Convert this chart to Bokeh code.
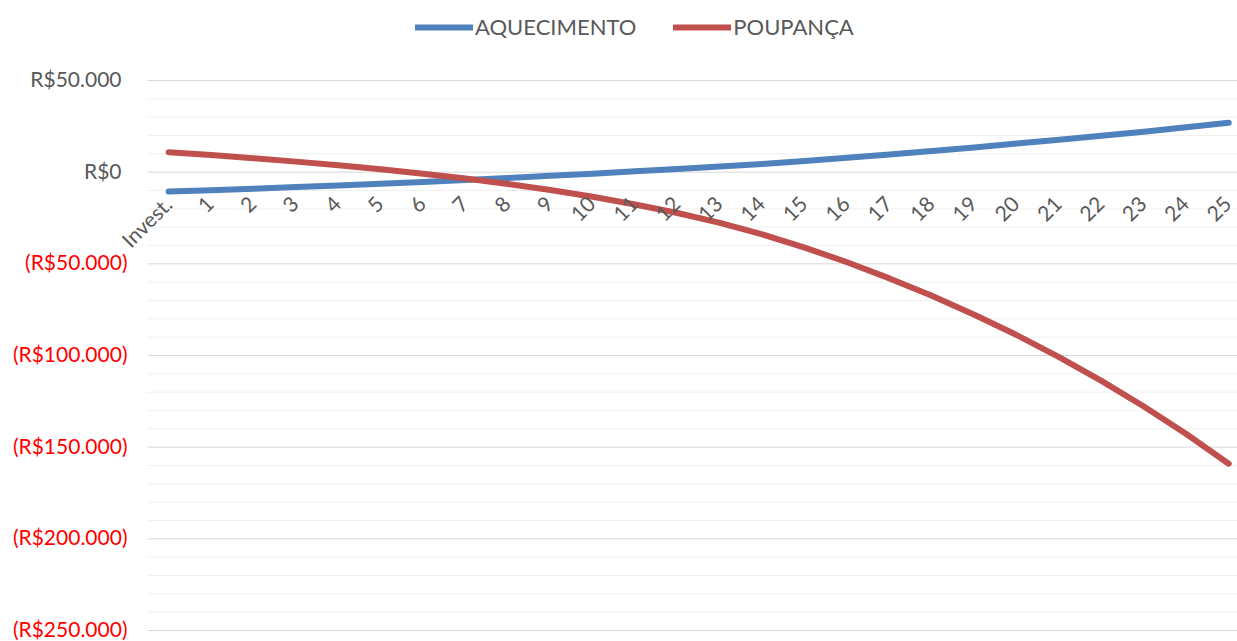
import math

from bokeh.core.properties import value
from bokeh.embed import file_html
from bokeh.models import ColumnDataSource, LabelSet, Legend, LegendItem, Range1d
from bokeh.plotting import figure
from bokeh.resources import INLINE

# Period labels on the category axis
periods = ["Invest.", "1", "2", "3", "4", "5", "6", "7", "8", "9", "10", "11", "12",
           "13", "14", "15", "16", "17", "18", "19", "20", "21", "22", "23", "24", "25"]

# Accumulated balance per period (R$)
aquecimento = [-10600, -9800, -9000, -8150, -7250, -6300, -5300, -4250, -3150, -2000,
               -800, 450, 1700, 3050, 4500, 6100, 7800, 9600, 11500, 13500,
               15600, 17700, 19850, 22100, 24450, 26900]
poupanca = [10900, 9300, 7600, 5750, 3750, 1550, -850, -3500, -6450, -9750,
            -13450, -17600, -22250, -27650, -33950, -41150, -49150, -57950, -67450, -77750,
            -88850, -100850, -113850, -127850, -142850, -159000]

# Value axis ticks and their currency labels
y_ticks = [50000, 0, -50000, -100000, -150000, -200000, -250000]
y_tick_labels = ["R$50.000", "R$0", "(R$50.000)", "(R$100.000)", "(R$150.000)",
                 "(R$200.000)", "(R$250.000)"]
minor_step = 10000

FONT = "Lato"
GRAY = "#595959"
BLUE = "#4F81BD"
RED = "#C0504D"

W, H = 1237, 641
PLOT_LEFT, PLOT_TOP, PLOT_BOTTOM = 147, 80, 630   # pixel edges of the plotting area
BAND = 42.4                                         # pixels per period

x = list(range(len(periods)))
x_start = -0.5 - PLOT_LEFT / BAND
x_end = x_start + W / BAND
y_top_val, y_bot_val = max(y_ticks), min(y_ticks)
per_px = (y_top_val - y_bot_val) / (PLOT_BOTTOM - PLOT_TOP)
y_start = y_bot_val - (H - PLOT_BOTTOM) * per_px
y_end = y_top_val + PLOT_TOP * per_px

p = figure(width=W, height=H, output_backend="svg", toolbar_location=None,
           x_range=Range1d(x_start, x_end), y_range=Range1d(y_start, y_end),
           x_axis_type=None, y_axis_type=None,
           min_border=0, min_border_left=0, min_border_right=0,
           min_border_top=0, min_border_bottom=0)
p.outline_line_color = None
p.background_fill_color = "white"
p.border_fill_color = "white"
p.xgrid.visible = False
p.ygrid.visible = False

# Horizontal gridlines across the plotting area: minor every 10.000, major every 50.000
minor = [v for v in range(y_bot_val, y_top_val + 1, minor_step) if v not in y_ticks]
p.segment(x0=[-0.5] * len(minor), x1=[x_end] * len(minor), y0=minor, y1=minor,
          line_color="#F0F0F0", line_width=1)
p.segment(x0=[-0.5] * len(y_ticks), x1=[x_end] * len(y_ticks), y0=y_ticks, y1=y_ticks,
          line_color="#D9D9D9", line_width=1)

src = ColumnDataSource(dict(x=x, aq=aquecimento, po=poupanca, label=periods))

r_aq = p.line("x", "aq", source=src, line_width=6, line_color=BLUE,
              line_cap="round", line_join="round")
r_po = p.line("x", "po", source=src, line_width=6, line_color=RED,
              line_cap="round", line_join="round")

# Category labels, rotated, hanging below the zero line
p.add_layout(LabelSet(x="x", y=0, text="label", source=src, angle=math.pi / 4,
                      text_align="right", text_baseline="middle",
                      x_offset=-1, y_offset=-28,
                      text_font=value(FONT), text_font_size="21px", text_color=GRAY))

# Value labels: positive in gray, negative in red with parentheses
pos = [(t, s) for t, s in zip(y_ticks, y_tick_labels) if t >= 0]
neg = [(t, s) for t, s in zip(y_ticks, y_tick_labels) if t < 0]
pos_src = ColumnDataSource(dict(y=[t for t, _ in pos], text=[s for _, s in pos]))
neg_src = ColumnDataSource(dict(y=[t for t, _ in neg], text=[s for _, s in neg]))
p.add_layout(LabelSet(x=-0.5, y="y", text="text", source=pos_src,
                      x_offset=-26, y_offset=2, text_align="right", text_baseline="middle",
                      text_font=value(FONT), text_font_size="21px", text_color=GRAY))
p.add_layout(LabelSet(x=-0.5, y="y", text="text", source=neg_src,
                      x_offset=-20, y_offset=2, text_align="right", text_baseline="middle",
                      text_font=value(FONT), text_font_size="21px", text_color="#FF0000"))

legend = Legend(items=[LegendItem(label="AQUECIMENTO", renderers=[r_aq]),
                       LegendItem(label="POUPANÇA", renderers=[r_po])],
                orientation="horizontal", location=(415, 601),
                glyph_width=58, glyph_height=20, label_standoff=2, spacing=37,
                padding=0, margin=0, border_line_color=None, background_fill_alpha=0,
                label_text_font=FONT, label_text_font_size="22px", label_text_color=GRAY)
p.add_layout(legend)

open("out.html", "w").write(file_html(p, INLINE))
